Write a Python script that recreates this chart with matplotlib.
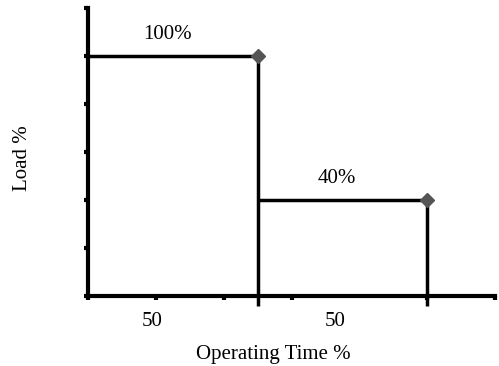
import numpy as np
import matplotlib
matplotlib.use("Agg")
import matplotlib.pyplot as plt


# load profile: two steps of equal operating time
durations   = [50, 50]
load_levels = [100, 40]
step_labels = ["100%", "40%"]
time_labels = ["50", "50"]

y_ticks = [0, 20, 40, 60, 80, 100, 120]
x_ticks = [0, 20, 40, 60, 100, 120]
x_max   = 120
y_max   = 120

plt.rcParams['font.family'] = ['Liberation Serif', 'DejaVu Serif']

fig = plt.figure(figsize=(4.99, 3.66), dpi=100)
ax = fig.add_axes([0.1764, 0.1913, 0.8156, 0.7868])

ax.set_xlim(0, x_max)
ax.set_ylim(0, y_max)

starts = np.concatenate([[0], np.cumsum(durations)[:-1]])
ends   = np.cumsum(durations)

for x0, x1, lv, lab in zip(starts, ends, load_levels, step_labels):
    # horizontal load level, then drop to the axis
    ax.plot([x0, x1], [lv, lv], color='black', lw=2.5, solid_capstyle='butt', zorder=3)
    ax.plot([x1, x1], [lv, -4], color='black', lw=2.5, solid_capstyle='butt',
            clip_on=False, zorder=3)
    ax.plot(x1, lv, marker='D', color='#555555', ms=7, zorder=4, clip_on=False)
    ax.text(x0 + 0.47 * (x1 - x0), lv + 5, lab, ha='center', va='bottom', fontsize=15)

for x0, x1, lab in zip(starts, ends, time_labels):
    ax.text(x0 + 0.38 * (x1 - x0) + (4 if x0 > 0 else 0), -6.5, lab,
            ha='center', va='top', fontsize=15)

for side in ['top', 'right']:
    ax.spines[side].set_visible(False)
for side in ['left', 'bottom']:
    ax.spines[side].set_linewidth(3)
    ax.spines[side].set_capstyle('projecting')

ax.set_yticks(y_ticks)
ax.set_xticks(x_ticks)
ax.set_yticklabels([])
ax.set_xticklabels([])
ax.tick_params(axis='y', direction='out', length=3, width=3)
ax.tick_params(axis='x', direction='out', length=3, width=3)

ax.set_ylabel("Load %", fontsize=15)
ax.yaxis.set_label_coords(-0.1376, 0.479)
ax.set_xlabel("Operating Time %", fontsize=15)
ax.xaxis.set_label_coords(0.4545, -0.17)

fig.savefig("out.png", dpi=100)
